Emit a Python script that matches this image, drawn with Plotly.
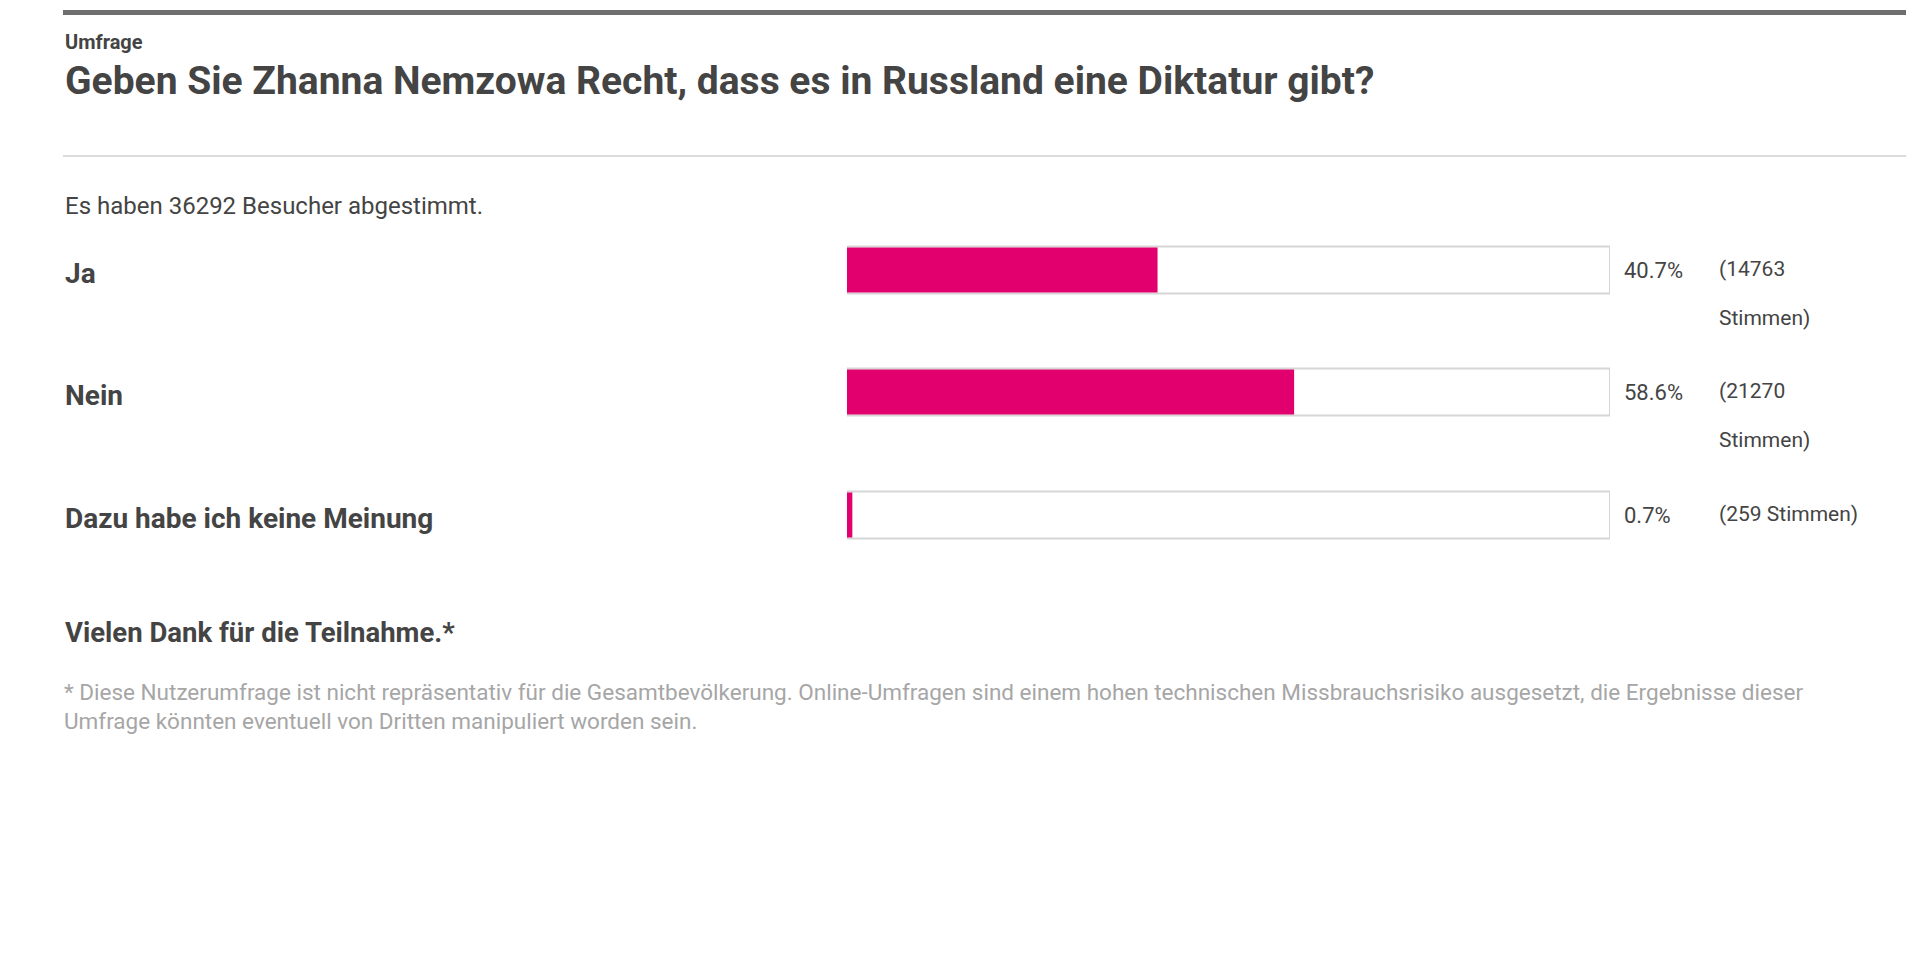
import plotly.graph_objects as go

# poll data
answers = ["Ja", "Nein", "Dazu habe ich keine Meinung"]
percent = [40.7, 58.6, 0.7]
votes = [14763, 21270, 259]
vote_lines = [["(14763", "Stimmen)"], ["(21270", "Stimmen)"], ["(259 Stimmen)"]]
total = 36292

W, H = 1914, 955
row_y = [262, 384, 507]
FONT = "Roboto"
DARK = "#444444"
PINK = "#e2006f"
X0 = 55

fig = go.Figure()

# empty bar track
fig.add_trace(go.Bar(
    x=[100] * 3, y=row_y, orientation="h", width=47,
    xaxis="x2", yaxis="y",
    marker=dict(color="white", line=dict(color="#d6d6d6", width=2)),
    hoverinfo="skip", showlegend=False))
# result bar
fig.add_trace(go.Bar(
    x=percent, y=row_y, orientation="h", width=45,
    xaxis="x2", yaxis="y",
    marker=dict(color=PINK, line=dict(width=0)),
    showlegend=False))

ann = []
def txt(x, y, s, size, color=DARK, bold=False):
    ann.append(dict(x=x, y=y, xref="x", yref="y", text=f"<b>{s}</b>" if bold else s,
                    showarrow=False, xanchor="left", yanchor="middle", align="left",
                    font=dict(family=FONT, size=size, color=color)))

txt(X0, 34, "Umfrage", 20, bold=True)
txt(X0, 73, "Geben Sie Zhanna Nemzowa Recht, dass es in Russland eine Diktatur gibt?", 39, bold=True)
txt(X0, 198, f"Es haben {total} Besucher abgestimmt.", 24)
for i, a in enumerate(answers):
    txt(X0, row_y[i] + 3, a, 28, bold=True)
    txt(1614, row_y[i], f"{percent[i]}%", 22)
    for j, line in enumerate(vote_lines[i]):
        txt(1709, row_y[i] - 1 + 49 * j, line, 21)
txt(X0, 624, "Vielen Dank für die Teilnahme.*", 27.5, bold=True)
txt(X0 - 1, 684, "* Diese Nutzerumfrage ist nicht repräsentativ für die Gesamtbevölkerung. Online-Umfragen sind einem hohen technischen Missbrauchsrisiko ausgesetzt, die Ergebnisse dieser", 22.5, color="#a6a6a6")
txt(X0 - 1, 713, "Umfrage könnten eventuell von Dritten manipuliert worden sein.", 22.5, color="#a6a6a6")

shapes = [
    dict(type="rect", x0=X0, x1=W, y0=2, y1=7, xref="x", yref="y",
         fillcolor="#6e6e6e", line=dict(width=0)),
    dict(type="line", x0=X0, x1=W, y0=148, y1=148, xref="x", yref="y",
         line=dict(color="#dcdcdc", width=2)),
]

fig.update_layout(
    width=W, height=H, margin=dict(l=0, r=0, t=0, b=0),
    paper_bgcolor="white", plot_bgcolor="white", barmode="overlay",
    xaxis=dict(range=[0, W], visible=False, fixedrange=True),
    xaxis2=dict(range=[0, 100], domain=[839 / W, 1602 / W], anchor="y", visible=False),
    yaxis=dict(range=[H, 0], visible=False),
    annotations=ann, shapes=shapes,
)

fig.write_html("out.html")
